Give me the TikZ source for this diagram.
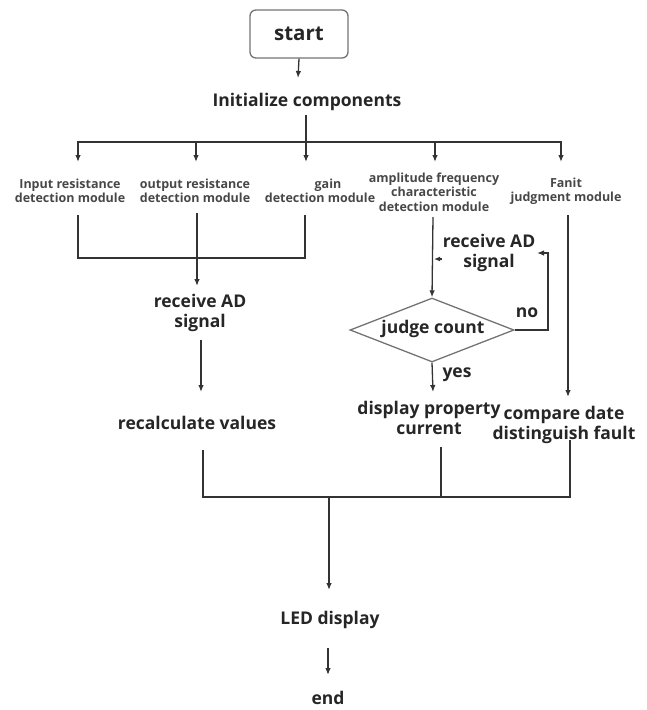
\documentclass[tikz,border=0pt]{standalone}
\usepackage{fontspec}
\setmainfont{Open Sans}
\usetikzlibrary{arrows.meta,shapes.geometric}
\begin{document}
\begin{tikzpicture}[x=1pt,y=-1pt,
 line/.style={line width=1.3pt, draw=black!80},
 arr/.style={line, -{Latex[length=7pt,width=5.5pt]}},
 big/.style={font=\bfseries\fontsize{17.5}{20.5}\selectfont, align=center, inner sep=0pt, text=black!85},
 small/.style={font=\bfseries\fontsize{12.5}{14.5}\selectfont, align=center, inner sep=0pt, text=black!72},
 ]
\useasboundingbox (0,0) rectangle (647,710);
\node[draw=black!55, line width=1.3pt, rounded corners=6pt, minimum width=98pt, minimum height=48pt, font=\bfseries\fontsize{20.5}{24}\selectfont, text=black!85] (start) at (299,34) {start};
\node[big] (init) at (307,102) {Initialize components};
\node[small] (m1) at (70,191) {Input resistance\\detection module};
\node[small] (m2) at (195,191) {output resistance\\detection module};
\node[small] (m3) at (320,191) {\hspace*{16pt}gain\\detection module};
\node[small] (m4) at (434,192) {amplitude frequency\\characteristic\\detection module};
\node[small] (m5) at (566,191) {Fanit\\judgment module};
\node[big] (recv1) at (200,313) {receive AD\\signal};
\node[big] (recalc) at (197,423) {recalculate values};
\node[big] (recv2) at (489,253) {receive AD\\signal};
\node[diamond, draw=black!55, line width=1.3pt, minimum width=164pt, minimum height=64pt, inner sep=0pt] (judge) at (432,330) {};
\node[big] (jtext) at (433,329) {judge count};
\node[big] (yes) at (457,375) {yes};
\node[big] (no) at (527,313) {no};
\node[big] (disp) at (429,418) {display property\\current};
\node[big] (cmp) at (564,425) {compare date\\distinguish fault};
\node[big] (led) at (330,620) {LED display};
\node[big] (end) at (328,698) {end};

% coordinates
\coordinate (s1) at (298,78);
\coordinate (i0) at (306,115);
\coordinate (bL) at (78,142);
\coordinate (bR) at (561,142);
\coordinate (mid) at (306,162);

\draw[arr] (start.south) -- (s1);
\draw[line] (bL) -- (bR);
\draw[arr] (i0) -- (mid);
\foreach \x in {78,196,435,561} \draw[arr] (\x,141.35) -- (\x,162);

\draw[line] (78,215) -- (78,258) -- (305,258) -- (305,215);
\draw[arr] (197,213) -- (197,286);
\draw[arr] (201,340) -- (201,392);

\draw[arr] (433,217) -- (judge.north);
\draw[line, -{Latex[length=6pt,width=5pt]}] (442,259) -- (434,259);
\draw[arr] (judge.east) -- (548,330) -- (548,253) -- (537,253);
\draw[arr] (judge.south) -- (433,392);
\draw[arr] (568,215) -- (568,397);

\draw[line] (203,450) -- (203,497) -- (570,497) -- (570,440);
\draw[line] (441,447) -- (441,497);
\draw[arr] (329,497) -- (329,590);
\draw[arr] (328,648) -- (328,675);
\end{tikzpicture}
\end{document}
